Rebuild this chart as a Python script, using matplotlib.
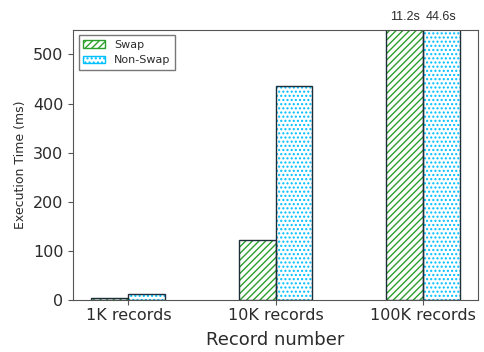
import numpy as np
import matplotlib.pyplot as plt
from matplotlib.patches import Patch

# execution time per record count (ms)
categories = ['1K records', '10K records', '100K records']
swap_ms = [4, 122, 11200]
nonswap_ms = [12, 435, 44600]
top_labels = ['11.2s', '44.6s']

swap_color = '#2ca02c'
nonswap_color = '#00bfff'
edge = '#1f2f3a'
txt = '#2b2b2b'

fig = plt.figure(figsize=(4.84, 3.52), dpi=100)
ax = fig.add_axes([0.151, 0.148, 0.837, 0.767])

x = np.arange(len(categories))
w = 0.25

# hatches in series colour, outline drawn dark on top
ax.bar(x - w / 2, swap_ms, w, color='white', edgecolor=swap_color, hatch='/////', linewidth=0)
ax.bar(x + w / 2, nonswap_ms, w, color='white', edgecolor=nonswap_color, hatch='....', linewidth=0)
ax.bar(x - w / 2, swap_ms, w, fill=False, edgecolor=edge, linewidth=1.0)
ax.bar(x + w / 2, nonswap_ms, w, fill=False, edgecolor=edge, linewidth=1.0)

ax.set_ylim(0, 550)
ax.set_yticks([0, 100, 200, 300, 400, 500])
ax.set_xticks(x)
ax.set_xticklabels(categories, fontsize=11.5, color=txt)
ax.tick_params(axis='y', labelsize=11.5, labelcolor=txt, colors='#555555')
ax.tick_params(axis='x', pad=2, colors='#555555', labelcolor=txt)
ax.set_xlabel('Record number', fontsize=13, color=txt, labelpad=6)
ax.set_ylabel('Execution Time (ms)', fontsize=9, color=txt)

for s in ax.spines.values():
    s.set_color('#555555')

# the 100K bars run off the top, so their values go above
ax.text(x[2] - w / 2, 565, top_labels[0], ha='center', va='bottom', fontsize=9,
        family='Liberation Sans', color=txt)
ax.text(x[2] + w / 2, 565, top_labels[1], ha='center', va='bottom', fontsize=9,
        family='Liberation Sans', color=txt)

handles = [Patch(facecolor='white', edgecolor=swap_color, hatch='/////', label='Swap'),
           Patch(facecolor='white', edgecolor=nonswap_color, hatch='....', label='Non-Swap')]
leg = ax.legend(handles=handles, loc='upper left', fontsize=8, fancybox=False, edgecolor='#555555')
for t in leg.get_texts():
    t.set_color(txt)

fig.savefig('out.png', dpi=100)
